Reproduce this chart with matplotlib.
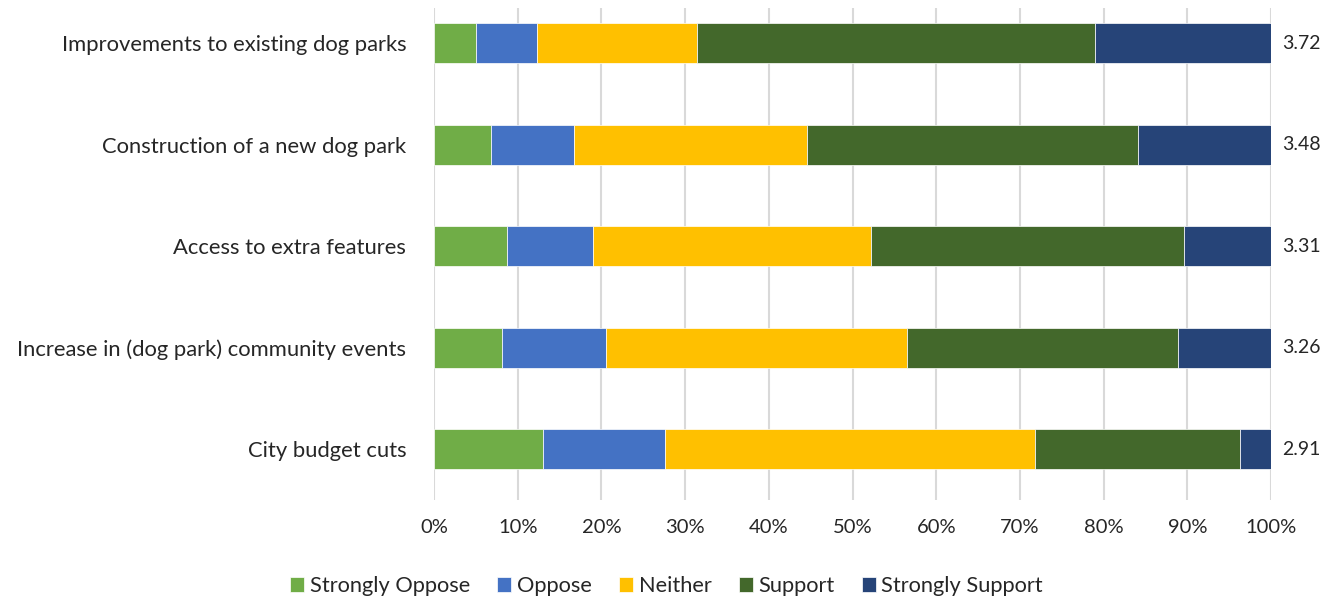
import numpy as np
import matplotlib.pyplot as plt

plt.rcParams['font.family'] = ['Lato', 'DejaVu Sans']

categories = ["City budget cuts",
              "Increase in (dog park) community events",
              "Access to extra features",
              "Construction of a new dog park",
              "Improvements to existing dog parks"]
strongly_oppose = [13.0, 8.1, 8.7, 6.8, 5.0]
oppose = [14.6, 12.4, 10.3, 9.9, 7.3]
neither = [44.2, 36.0, 33.2, 27.9, 19.1]
support = [24.5, 32.4, 37.4, 39.5, 47.6]
strongly_support = [3.7, 11.1, 10.4, 15.9, 21.0]
means = ["2.91", "3.26", "3.31", "3.48", "3.72"]

series = [("Strongly Oppose", strongly_oppose, "#70AD47"),
          ("Oppose", oppose, "#4472C4"),
          ("Neither", neither, "#FFC000"),
          ("Support", support, "#43682B"),
          ("Strongly Support", strongly_support, "#264478")]

fig = plt.figure(figsize=(13.33, 5.96), dpi=100)
ax = fig.add_axes([0.3256, 0.161, 0.9535 - 0.3256, 0.9866 - 0.161])

y = np.arange(len(categories))
left = np.zeros(len(categories))
for name, vals, col in series:
    ax.barh(y, vals, left=left, height=0.395, color=col, label=name,
            edgecolor='white', linewidth=0.5, zorder=3)
    left += np.array(vals)

for i, m in enumerate(means):
    ax.text(101.3, y[i], m, va='center', ha='left', fontsize=14, color='#262626')

ax.set_xlim(0, 100)
ax.set_ylim(-0.5, 4.345)
ax.set_xticks(np.arange(0, 101, 10))
ax.set_xticklabels([f"{v}%" for v in range(0, 101, 10)], fontsize=14.5, color='#262626')
ax.set_yticks(y)
ax.set_yticklabels(categories, fontsize=15.8, color='#262626')
ax.tick_params(axis='both', length=0)
ax.tick_params(axis='y', pad=20)
ax.tick_params(axis='x', pad=14)
ax.grid(axis='x', color='#D9D9D9', linewidth=1.5, zorder=0)
for s in ax.spines.values():
    s.set_visible(False)

fig.legend(loc='lower center', bbox_to_anchor=(0.5, -0.033), ncol=5, frameon=False,
           fontsize=15.7, handlelength=0.65, handleheight=0.65, handletextpad=0.25,
           columnspacing=1.25, labelcolor='#262626')

fig.savefig("out.png", dpi=100)
